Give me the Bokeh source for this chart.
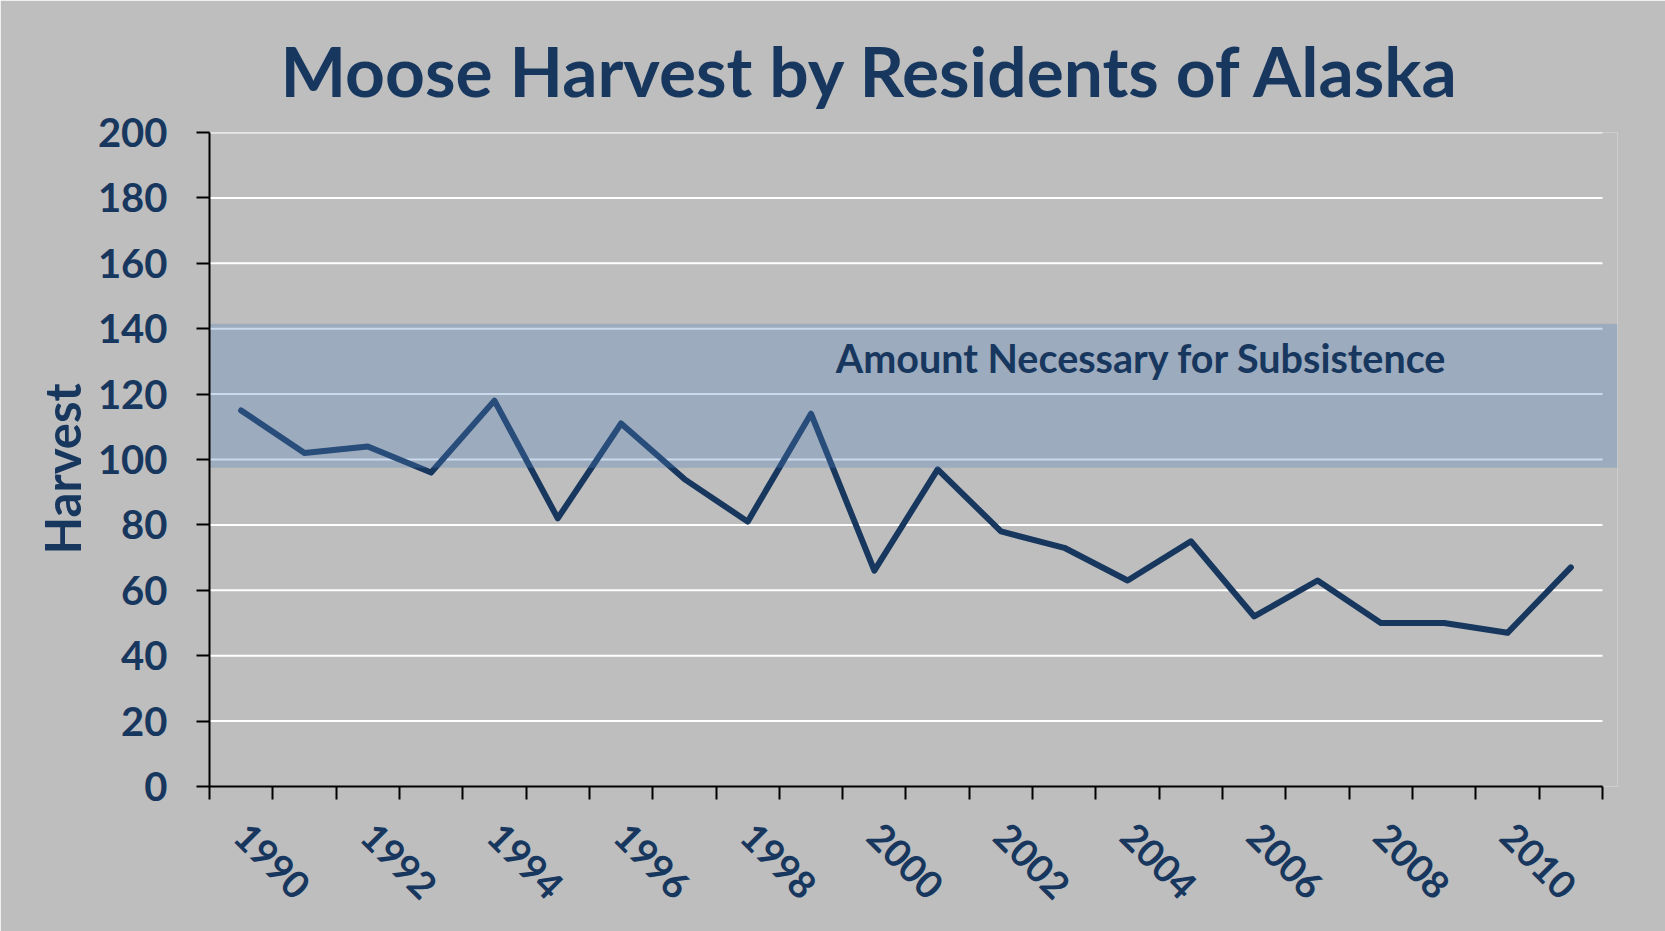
from bokeh.plotting import figure
from bokeh.models import Range1d, FixedTicker, Title, Label, ColumnDataSource
from bokeh.embed import file_html
from bokeh.resources import INLINE

# ---- data ----
years = list(range(1990, 2012))
harvest = [115, 102, 104, 96, 118, 82, 111, 94, 81, 114, 66, 97, 78, 73, 63, 75, 52, 63, 50, 50, 47, 67]
y_ticks = [0, 20, 40, 60, 80, 100, 120, 140, 160, 180, 200]
x_label_years = [1990, 1992, 1994, 1996, 1998, 2000, 2002, 2004, 2006, 2008, 2010]
band_low = 97.5
band_high = 141.5
band_label = "Amount Necessary for Subsistence"
title_text = "Moose Harvest by Residents of Alaska"
y_title = "Harvest"

# ---- styles ----
NAVY = "#17375E"
BG = "#BEBEBE"
BAND = "#4F81BD"
FONT = "Lato"

idx = list(range(len(years)))
x_lo = -0.5
x_hi = len(years) - 0.5
x_end = x_hi + 0.237  # band overhangs the axis end

p = figure(width=1665, height=931, output_backend="svg", toolbar_location=None,
           x_range=Range1d(x_lo, x_end), y_range=Range1d(y_ticks[0], y_ticks[-1]),
           min_border_left=209, min_border_right=48, min_border_top=132, min_border_bottom=145)
p.background_fill_color = BG
p.border_fill_color = BG
p.outline_line_color = None
p.xgrid.visible = False
p.ygrid.visible = False

# title
p.title = Title(text=title_text, align="left", offset=71, standoff=41,
                text_font=FONT, text_font_size="69.5px", text_font_style="bold", text_color=NAVY)

# gridlines (white), drawn from tick values
grid_y = [v for v in y_ticks if v != 0]
p.segment(x0=[x_lo] * len(grid_y), x1=[x_hi] * len(grid_y), y0=grid_y, y1=grid_y,
          line_color="white", line_width=2)

# data line
src = ColumnDataSource(dict(x=idx, y=harvest))
p.line("x", "y", source=src, line_color=NAVY, line_width=6, line_cap="round", line_join="round")

# band
p.quad(left=[x_lo], right=[x_end], bottom=[band_low], top=[band_high],
       fill_color=BAND, fill_alpha=0.3, line_color=None)

p.add_layout(Label(x=14.22, y=131.3, text=band_label, text_align="center", text_baseline="alphabetic",
                   text_font=FONT, text_font_size="39.5px", text_font_style="bold", text_color=NAVY))

# y axis
ya = p.yaxis[0]
ya.ticker = FixedTicker(ticks=y_ticks)
ya.bounds = (y_ticks[0], y_ticks[-1])
ya.axis_line_color = "black"
ya.axis_line_width = 2
ya.major_tick_line_color = "black"
ya.major_tick_line_width = 2
ya.major_tick_out = 13
ya.major_tick_in = 0
ya.minor_tick_out = 0
ya.minor_tick_in = 0
ya.major_label_standoff = 29
ya.major_label_text_font = FONT
ya.major_label_text_font_size = "40px"
ya.major_label_text_font_style = "bold"
ya.major_label_text_color = NAVY

# y axis title as a left-side title (lets it sit slightly below the frame centre)
p.add_layout(Title(text=y_title, align="left", offset=232, standoff=7,
                   text_font=FONT, text_font_size="49px", text_font_style="bold", text_color=NAVY), "left")

# x axis
xa = p.xaxis[0]
label_idx = [years.index(yv) for yv in x_label_years]
boundaries = [i - 0.5 for i in range(len(years) + 1)]
xa.ticker = FixedTicker(ticks=label_idx, minor_ticks=boundaries)
xa.major_label_overrides = {i: str(years[i]) for i in label_idx}
xa.bounds = (x_lo, x_hi)
xa.axis_line_color = "black"
xa.axis_line_width = 2
xa.major_tick_out = 0
xa.major_tick_in = 0
xa.minor_tick_out = 13
xa.minor_tick_in = 0
xa.minor_tick_line_color = "black"
xa.minor_tick_line_width = 2
xa.major_label_orientation = -0.7854
xa.major_label_standoff = 30
xa.major_label_text_font = FONT
xa.major_label_text_font_size = "38px"
xa.major_label_text_font_style = "bold"
xa.major_label_text_color = NAVY

open("out.html", "w").write(file_html(p, INLINE))
